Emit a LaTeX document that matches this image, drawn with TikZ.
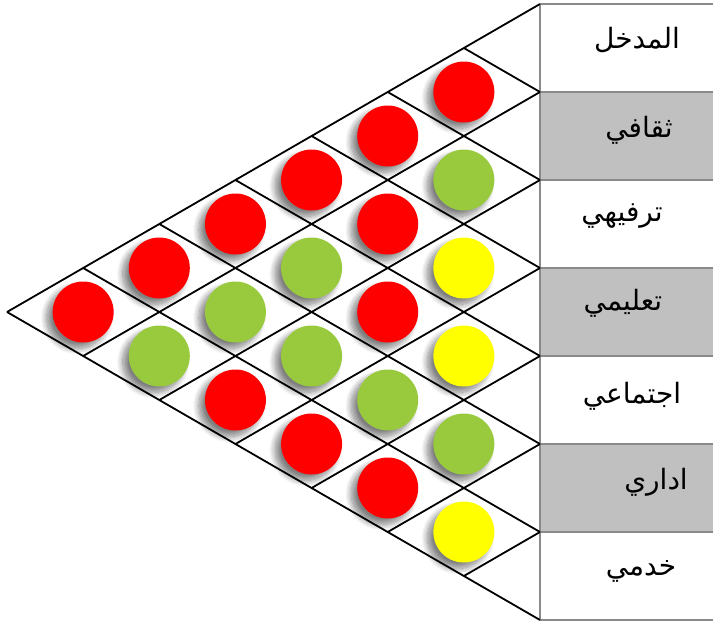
\documentclass[tikz,border=0pt]{standalone}
\usepackage{fontspec}
\newfontfamily\arabicfont[Script=Arabic]{DejaVu Sans}
\TeXXeTstate=1
\usetikzlibrary{shadows.blur}
\definecolor{cR}{HTML}{FF0000}
\definecolor{cG}{HTML}{99C93C}
\definecolor{cY}{HTML}{FFFF00}
\definecolor{cellgray}{HTML}{C0C0C0}
\definecolor{bordergray}{HTML}{8A8A8A}
\tikzset{
  dot/.style={circle, minimum size=61pt, inner sep=0pt, draw=none,
    blur shadow={shadow xshift=-6pt, shadow yshift=-6pt, shadow blur steps=12, shadow blur radius=6pt, shadow opacity=50}},
  grid/.style={draw=black, line width=1.8pt},
  colborder/.style={draw=bordergray, line width=1.8pt},
  lbl/.style={font=\arabicfont\fontsize{28}{32}\selectfont, inner sep=0pt}
}
\begin{document}
\begin{tikzpicture}[x=1pt,y=-1pt]
\useasboundingbox (0,0) rectangle (713,625);
% right column cells
\foreach \k/\f in {0/white,1/cellgray,2/white,3/cellgray,4/white,5/cellgray,6/white}{
  \pgfmathsetmacro{\ya}{4+88*\k}
  \pgfmathsetmacro{\yb}{4+88*(\k+1)}
  \fill[\f] (540,\ya) rectangle (716,\yb);
}
\foreach \k in {0,...,7}{
  \pgfmathsetmacro{\ya}{4+88*\k}
  \draw[colborder] (540,\ya) -- (716,\ya);
}
\draw[colborder] (540,4) -- (540,620);
% circles
\foreach \j/\cols in {0/{cR,cG,cY,cY,cG,cY},1/{cR,cR,cR,cG,cR},2/{cR,cG,cG,cR},3/{cR,cG,cR},4/{cR,cG},5/{cR}}{
  \foreach \c [count=\i from 0] in \cols {
    \pgfmathsetmacro{\cx}{540-76.14*(\j+1)}
    \pgfmathsetmacro{\cy}{4+88*(\i+1)+44*\j}
    \node[dot, fill=\c] (c\j\i) at (\cx,\cy) {};
  }
}
% grid lines
\foreach \k in {0,...,7}{
  \pgfmathsetmacro{\yk}{4+88*\k}
  \pgfmathsetmacro{\dn}{7-\k}
  \coordinate (r\k) at (540,\yk);
  \draw[grid] (r\k) -- ++(-76.14*\dn,44*\dn);
  \draw[grid] (r\k) -- ++(-76.14*\k,-44*\k);
}
% labels
\node[lbl] (t0) at (637,40)  {\beginR المدخل\endR};
\node[lbl] (t1) at (639,130) {\beginR ثقافي\endR};
\node[lbl] (t2) at (622,216) {\beginR ترفيهي\endR};
\node[lbl] (t3) at (623,303) {\beginR تعليمي\endR};
\node[lbl] (t4) at (632,396) {\beginR اجتماعي\endR};
\node[lbl] (t5) at (656,482) {\beginR اداري\endR};
\node[lbl] (t6) at (641,571) {\beginR خدمي\endR};
\end{tikzpicture}
\end{document}
